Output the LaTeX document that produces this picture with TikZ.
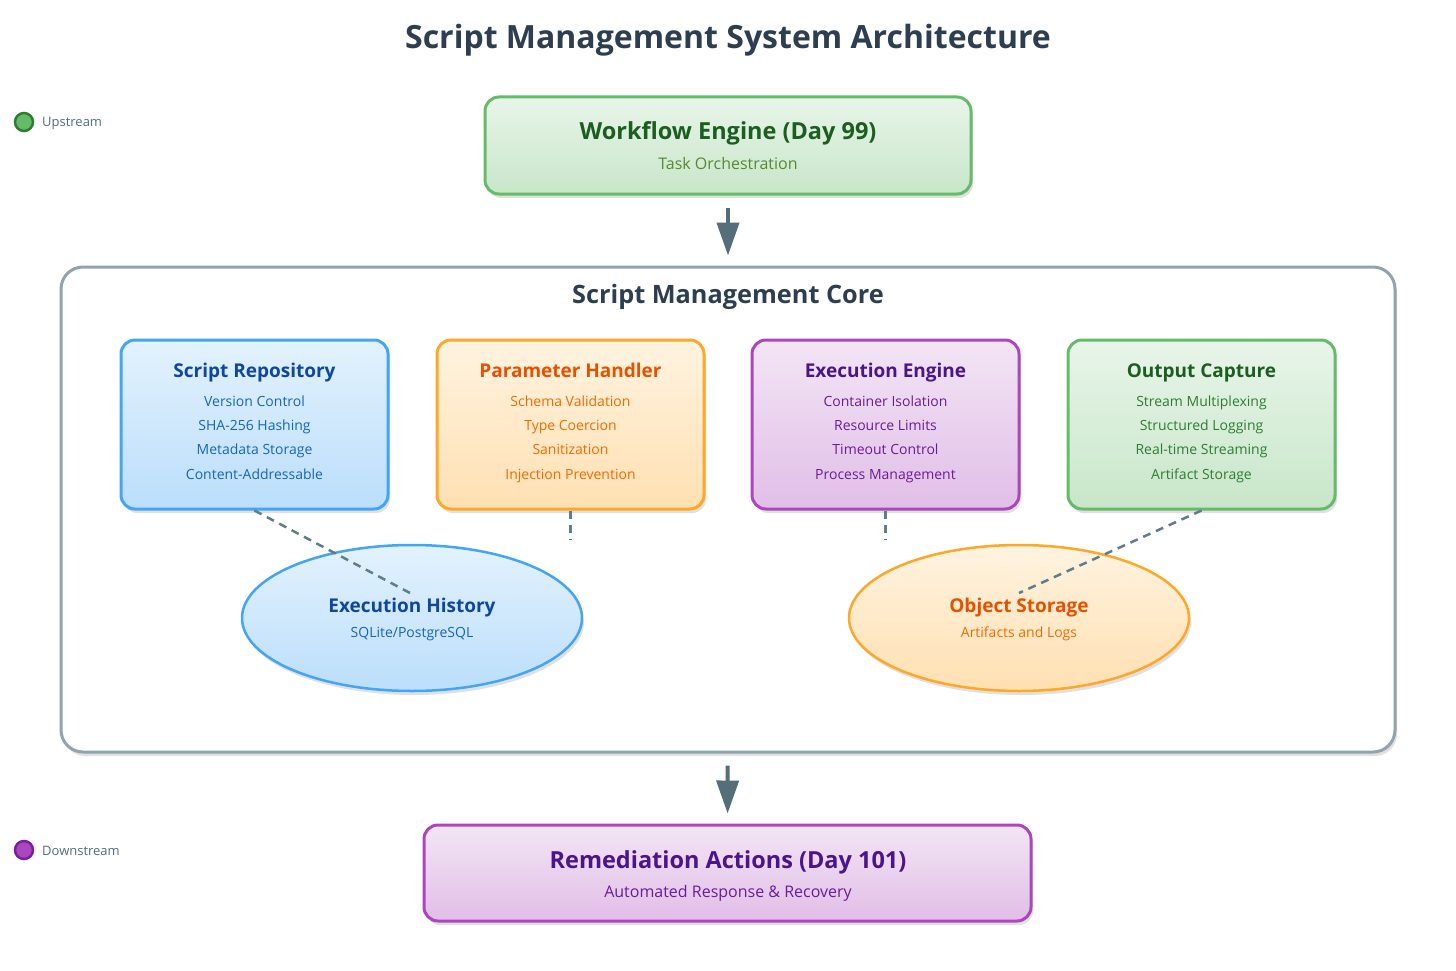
\documentclass[tikz,border=0pt]{standalone}
\usepackage{fontspec}
\setmainfont{Open Sans}
\usetikzlibrary{shapes.geometric,arrows.meta,shadows}

% Palette
\definecolor{inkdark}{HTML}{2C3E50}
\definecolor{legendgray}{HTML}{546E7A}
\definecolor{arrowgray}{HTML}{546E7A}
\definecolor{linkgray}{HTML}{607D8B}
\definecolor{coreline}{HTML}{90A4AE}
\definecolor{blueline}{HTML}{42A5F5}
\definecolor{bluetop}{HTML}{E3F2FD}
\definecolor{bluebot}{HTML}{BBDEFB}
\definecolor{bluetitle}{HTML}{0D47A1}
\definecolor{bluetext}{HTML}{1565C0}
\definecolor{orangeline}{HTML}{FFA726}
\definecolor{orangetop}{HTML}{FFF3E0}
\definecolor{orangebot}{HTML}{FFE0B2}
\definecolor{orangetitle}{HTML}{E65100}
\definecolor{orangetext}{HTML}{EF6C00}
\definecolor{purpleline}{HTML}{AB47BC}
\definecolor{purpletop}{HTML}{F3E5F5}
\definecolor{purplebot}{HTML}{E1BEE7}
\definecolor{purpletitle}{HTML}{4A148C}
\definecolor{purpletext}{HTML}{6A1B9A}
\definecolor{greenline}{HTML}{66BB6A}
\definecolor{greentop}{HTML}{E8F5E9}
\definecolor{greenbot}{HTML}{C8E6C9}
\definecolor{greentitle}{HTML}{1B5E20}
\definecolor{greentext}{HTML}{2E7D32}
\definecolor{greensub}{HTML}{558B2F}
\definecolor{greendot}{HTML}{2E7D32}
\definecolor{purpledot}{HTML}{7B1FA2}

\tikzset{
    softshadow/.style={drop shadow={shadow xshift=2pt,shadow yshift=-4pt,opacity=0.12,fill=black}},
    card/.style={rectangle, rounded corners=14pt, line width=3pt, draw=#1line,
        top color=#1top, bottom color=#1bot, softshadow},
    comp/.style={card=#1, minimum width=267pt, minimum height=169pt},
    comptitle/.style={font=\bfseries\fontsize{19}{23}\selectfont, text=#1title, inner sep=0pt, anchor=base},
    compitems/.style={font=\fontsize{14}{24.4}\selectfont, align=center, text=#1text, inner sep=0pt, anchor=base},
    subline/.style={font=\fontsize{14}{17}\selectfont, text=#1text, inner sep=0pt, anchor=base},
    headline/.style={font=\bfseries\fontsize{23.5}{28}\selectfont, inner sep=0pt, anchor=base},
    tagline/.style={font=\fontsize{16}{19}\selectfont, inner sep=0pt, anchor=base},
    store/.style={ellipse, line width=2.5pt, draw=#1line, top color=#1top, bottom color=#1bot,
        minimum width=340pt, minimum height=146pt, inner sep=0pt, softshadow},
    flow/.style={line width=4pt, draw=arrowgray, -{Triangle[width=22pt,length=33pt]}},
    link/.style={draw=linkgray, line width=2.5pt, dash pattern=on 8pt off 6pt},
    dot/.style={circle, minimum size=18pt, inner sep=0pt, line width=2.5pt, fill=#1line, draw=#1dot},
    legend/.style={font=\fontsize{13}{15}\selectfont, text=legendgray, anchor=base west, inner sep=0pt},
}

\begin{document}
\begin{tikzpicture}[x=1pt,y=-1pt]
    \useasboundingbox[fill=white] (0,0) rectangle (1456,971);

    % Title
    \node[font=\bfseries\fontsize{32}{38}\selectfont, text=inkdark, inner sep=0pt, anchor=base] (title) at (728,48.5) {Script Management System Architecture};

    % Legend
    \node[dot=green] (up) at (24,122) {};
    \node[legend] (upL) at (42,127) {Upstream};
    \node[dot=purple] (down) at (24,850) {};
    \node[legend] (downL) at (42,855) {Downstream};

    % Upstream workflow engine
    \node[card=green, minimum width=486pt, minimum height=97pt] (wf) at (728,145.5) {};
    \node[headline, text=greentitle] (wfT) at (728,139.5) {Workflow Engine (Day 99)};
    \node[tagline, text=greensub] (wfS) at (728,169.5) {Task Orchestration};

    % Core container
    \node[rectangle, rounded corners=22pt, line width=3pt, draw=coreline, fill=white,
        minimum width=1334pt, minimum height=485pt, softshadow] (core) at (728,509.5) {};
    \node[font=\bfseries\fontsize{25.3}{30}\selectfont, text=inkdark, inner sep=0pt, anchor=base] (coreT) at (728,303) {Script Management Core};

    % Components (items node sits on the baseline of its last line)
    \foreach \n/\x/\c/\t/\l in {
        repo/254.5/blue/{Script Repository}/{Version Control\\SHA-256 Hashing\\Metadata Storage\\Content-Addressable},
        param/570.5/orange/{Parameter Handler}/{Schema Validation\\Type Coercion\\Sanitization\\Injection Prevention},
        exec/885.5/purple/{Execution Engine}/{Container Isolation\\Resource Limits\\Timeout Control\\Process Management},
        out/1201.5/green/{Output Capture}/{Stream Multiplexing\\Structured Logging\\Real-time Streaming\\Artifact Storage}} {
        \node[comp=\c] (\n) at (\x,424.5) {};
        \node[comptitle=\c] (\n-t) at (\x,377) {\t};
        \node[compitems=\c] (\n-l) at (\x,479.2) {\l};
    }

    % Storage
    \node[store=blue] (hist) at (412,618) {};
    \node[store=orange] (obj) at (1019,618) {};

    % Dashed links
    \coordinate (hist-in) at (410,593);
    \coordinate (obj-in) at (1019,593);
    \coordinate (param-end) at (570.5,540);
    \coordinate (exec-end) at (885.5,540);
    \draw[link] (repo.south) -- (hist-in);
    \draw[link] (param.south) -- (param-end);
    \draw[link] (exec.south) -- (exec-end);
    \draw[link] (out.south) -- (obj-in);

    % Storage labels
    \node[comptitle=blue] (hist-t) at (412,612.5) {Execution History};
    \node[subline=blue] (hist-s) at (412,637) {SQLite/PostgreSQL};
    \node[comptitle=orange] (obj-t) at (1019,612.5) {Object Storage};
    \node[subline=orange] (obj-s) at (1019,637) {Artifacts and Logs};

    % Downstream remediation
    \node[card=purple, minimum width=607pt, minimum height=96pt] (rem) at (727.5,873) {};
    \node[headline, text=purpletitle] (remT) at (728,868) {Remediation Actions (Day 101)};
    \node[tagline, text=purpletext] (remS) at (728,897.5) {Automated Response \& Recovery};

    % Flow arrows
    \draw[flow, shorten <=12pt, shorten >=10pt] (wf) -- (core);
    \draw[flow, shorten <=12pt, shorten >=10pt] (core) -- (rem);
\end{tikzpicture}
\end{document}
